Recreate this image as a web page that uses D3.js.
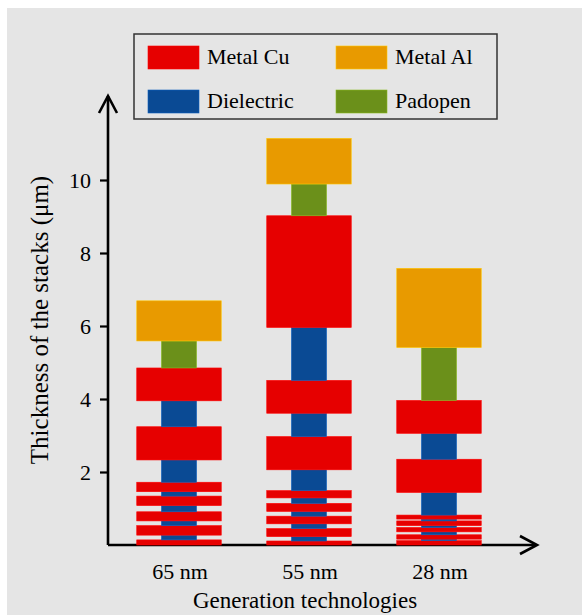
<!DOCTYPE html>
<html>
<head>
<meta charset="utf-8">
<script src="https://cdn.jsdelivr.net/npm/d3@7"></script>
<style>
  body { margin: 0; background: #fff; }
  svg { display: block; font-family: "Liberation Serif", "Times New Roman", serif; }
</style>
</head>
<body>
<svg width="582" height="615"></svg>
<script>
// categories on the x axis
const techs = ['65 nm', '55 nm', '28 nm'];

// legend / materials
const materials = ['Metal Cu', 'Metal Al', 'Dielectric', 'Padopen'];
const materialColors = ['#e60000', '#e89a00', '#0a4a94', '#6b901a'];
const wideMaterials = ['Metal Cu', 'Metal Al'];

// layer stacks, bottom to top (thickness in um)
const stack65Types = ['Metal Cu', 'Dielectric', 'Metal Cu', 'Dielectric', 'Metal Cu', 'Dielectric', 'Metal Cu', 'Dielectric', 'Metal Cu',
    'Dielectric', 'Metal Cu', 'Dielectric', 'Metal Cu', 'Padopen', 'Metal Al'];
const stack65Thick = [0.14, 0.13, 0.26, 0.13, 0.25, 0.17, 0.26, 0.12, 0.26, 0.61, 0.91, 0.71, 0.90, 0.74, 1.10];

const stack55Types = ['Metal Cu', 'Dielectric', 'Metal Cu', 'Dielectric', 'Metal Cu', 'Dielectric', 'Metal Cu', 'Dielectric', 'Metal Cu',
    'Dielectric', 'Metal Cu', 'Dielectric', 'Metal Cu', 'Dielectric', 'Metal Cu', 'Padopen', 'Metal Al'];
const stack55Thick = [0.11, 0.12, 0.22, 0.13, 0.21, 0.13, 0.22, 0.15, 0.20, 0.57, 0.91, 0.64, 0.90, 1.45, 3.06, 0.87, 1.25];

const stack28Types = ['Metal Cu', 'Dielectric', 'Metal Cu', 'Dielectric', 'Metal Cu', 'Dielectric', 'Metal Cu', 'Dielectric', 'Metal Cu',
    'Dielectric', 'Metal Cu', 'Dielectric', 'Metal Cu', 'Padopen', 'Metal Al'];
const stack28Thick = [0.12, 0.04, 0.12, 0.08, 0.12, 0.05, 0.13, 0.05, 0.11, 0.62, 0.91, 0.71, 0.90, 1.45, 2.17];

const yTicks = [2, 4, 6, 8, 10];

const stacks = [
    { tech: techs[0], types: stack65Types, thick: stack65Thick },
    { tech: techs[1], types: stack55Types, thick: stack55Thick },
    { tech: techs[2], types: stack28Types, thick: stack28Thick }
];

const svg = d3.select('svg');

const color = d3.scaleOrdinal().domain(materials).range(materialColors);

const x = d3.scaleBand().domain(techs).range([114, 504]);
const y = d3.scaleLinear().domain([0, 10]).range([545, 180]);

const wideW = x.bandwidth() * 0.65,
    narrowW = x.bandwidth() * 0.27;

// grey panel
svg.append('rect')
    .attr('x', 7).attr('y', 8)
    .attr('width', 575).attr('height', 607)
    .attr('fill', '#e5e5e5');

// y axis (ticks + labels)
const yAxis = svg.append('g')
    .attr('transform', 'translate(108,0)')
    .call(d3.axisLeft(y).tickValues(yTicks).tickSize(8).tickPadding(9));
yAxis.select('.domain').remove();
yAxis.selectAll('line').attr('stroke', '#000').attr('stroke-width', 2.2);
yAxis.selectAll('text')
    .attr('font-family', '"Liberation Serif", serif')
    .attr('font-size', 22)
    .attr('fill', '#000')
    .attr('dy', '0.36em');

// axis lines with open arrow heads
const axisStyle = sel => sel.attr('stroke', '#000').attr('stroke-width', 2.6).attr('fill', 'none');
svg.append('line').attr('x1', 108).attr('y1', y(0)).attr('x2', 108).attr('y2', 96).call(axisStyle);
svg.append('path').attr('d', 'M99,113L108,96L117,113').call(axisStyle);
svg.append('line').attr('x1', 108).attr('y1', y(0)).attr('x2', 536).attr('y2', y(0)).call(axisStyle);
svg.append('path').attr('d', 'M520,536L537,545L520,554').call(axisStyle);

// stacked layers
stacks.forEach(s => {
    let acc = 0;
    const segs = s.types.map((t, i) => {
        const seg = { tech: s.tech, type: t, y0: acc, y1: acc + s.thick[i] };
        acc += s.thick[i];
        return seg;
    });
    svg.append('g').selectAll('rect')
        .data(segs)
        .enter().append('rect')
        .attr('x', d => x(d.tech) + x.bandwidth() / 2 - (wideMaterials.includes(d.type) ? wideW : narrowW) / 2)
        .attr('width', d => wideMaterials.includes(d.type) ? wideW : narrowW)
        .attr('y', d => y(d.y1))
        .attr('height', d => y(d.y0) - y(d.y1))
        .attr('fill', d => color(d.type))
        .attr('stroke', d => d3.color(color(d.type)).brighter(0.7))
        .attr('stroke-width', 0.6);
});

// x labels
svg.append('g').selectAll('text')
    .data(techs)
    .enter().append('text')
    .attr('x', d => x(d) + x.bandwidth() / 2 + 1)
    .attr('y', 579)
    .attr('text-anchor', 'middle')
    .attr('font-size', 22)
    .attr('fill', '#000')
    .text(d => d);

svg.append('text')
    .attr('x', 305).attr('y', 608)
    .attr('text-anchor', 'middle')
    .attr('font-size', 23)
    .attr('fill', '#000')
    .text('Generation technologies');

svg.append('text')
    .attr('transform', 'translate(48,320) rotate(-90)')
    .attr('text-anchor', 'middle')
    .attr('font-size', 25)
    .attr('fill', '#000')
    .text('Thickness of the stacks (μm)');

// legend
const legend = svg.append('g');
legend.append('rect')
    .attr('x', 134).attr('y', 34)
    .attr('width', 363).attr('height', 85)
    .attr('fill', 'none')
    .attr('stroke', '#333')
    .attr('stroke-width', 1.5);

const legendPos = [[148, 46], [336, 46], [148, 90], [336, 90]];
const item = legend.selectAll('g.item')
    .data(materials)
    .enter().append('g')
    .attr('class', 'item')
    .attr('transform', (d, i) => 'translate(' + legendPos[i][0] + ',' + legendPos[i][1] + ')');
item.append('rect')
    .attr('width', 51).attr('height', 23)
    .attr('fill', d => color(d))
    .attr('stroke', d => d3.color(color(d)).brighter(0.7))
    .attr('stroke-width', 0.6);
item.append('text')
    .attr('x', 59).attr('y', 18)
    .attr('font-size', 22)
    .attr('fill', '#000')
    .text(d => d);
</script>
</body>
</html>
